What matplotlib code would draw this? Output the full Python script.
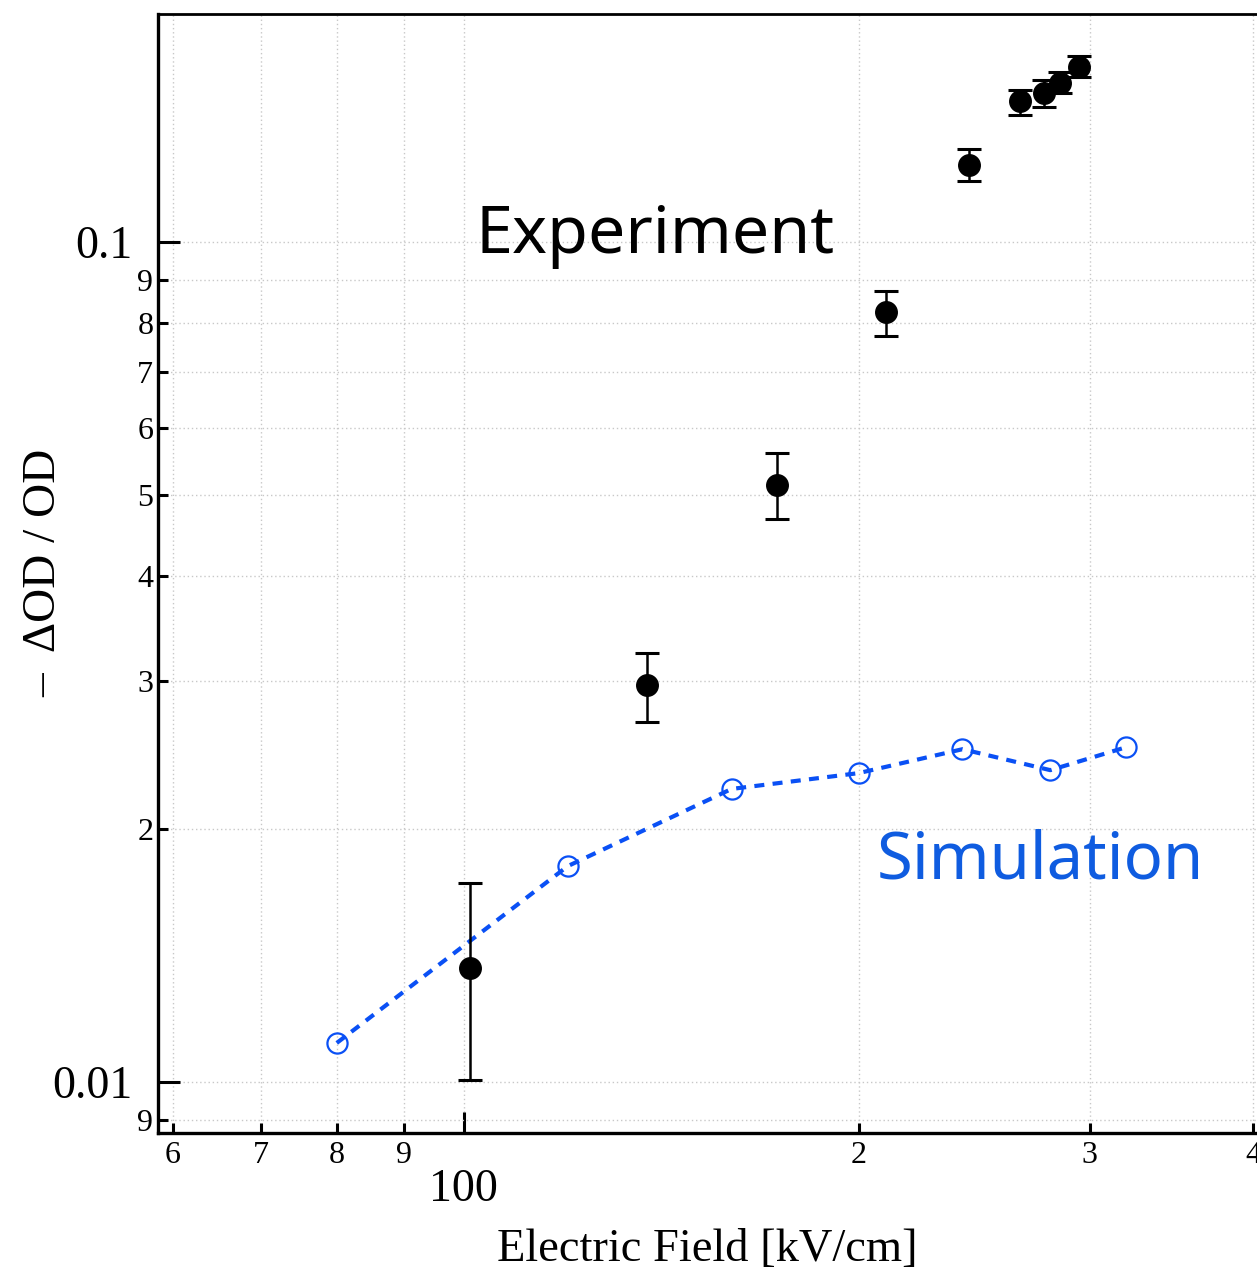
import matplotlib
matplotlib.use("Agg")
import matplotlib.pyplot as plt
from matplotlib.ticker import FixedLocator, FixedFormatter

# Experiment data
exp_field = [101.1, 137.9, 173.2, 209.7, 242.6, 265.3, 276.7, 284.8, 294.3]
exp_dod = [0.01367, 0.02970, 0.05137, 0.08253, 0.1235, 0.1472, 0.1503, 0.1547, 0.1617]
exp_err_lo = [0.00361, 0.00287, 0.00455, 0.00523, 0.0053, 0.0055, 0.0054, 0.0044, 0.0046]
exp_err_hi = [0.00358, 0.00270, 0.00471, 0.00487, 0.0055, 0.0045, 0.0056, 0.0048, 0.0050]

# Simulation data
sim_field = [80, 120, 160, 200, 240, 280, 320]
sim_dod = [0.01113, 0.01807, 0.02233, 0.02332, 0.02490, 0.02351, 0.02504]

x_major = [100]
x_major_labels = ["100"]
x_minor = [60, 70, 80, 90, 200, 300, 400]
x_minor_labels = ["6", "7", "8", "9", "2", "3", "4"]
y_major = [0.01, 0.1]
y_major_labels = ["0.01", "0.1"]
y_minor = [0.009, 0.02, 0.03, 0.04, 0.05, 0.06, 0.07, 0.08, 0.09]
y_minor_labels = ["9", "2", "3", "4", "5", "6", "7", "8", "9"]

SERIF = "Liberation Serif"
SIM_BLUE = "#0a50f5"

fig = plt.figure(figsize=(12.57, 12.70), dpi=100)
ax = fig.add_axes([0.1253, 0.108, 0.8747, 0.8813])

ax.set_xscale("log")
ax.set_yscale("log")
ax.set_xlim(58.4, 402.5)
ax.set_ylim(0.0087, 0.187)

# simulation
ax.plot(sim_field, sim_dod, color=SIM_BLUE, lw=3, linestyle=(0, (2.4, 2.0)),
        marker="o", markersize=14.5, markerfacecolor="none",
        markeredgecolor=SIM_BLUE, markeredgewidth=1.6, zorder=3)

# experiment
ax.errorbar(exp_field, exp_dod, yerr=[exp_err_lo, exp_err_hi], fmt="o",
            color="black", markersize=15.5, elinewidth=1.8, capsize=8.6,
            capthick=2.2, zorder=4)

ax.text(0.2895, 0.786, "Experiment", fontsize=47.8, family="Noto Sans",
        color="black", va="baseline", ha="left", transform=ax.transAxes)
ax.text(0.6545, 0.227, "Simulation", fontsize=47, family="Noto Sans",
        color="#0f5ce0", va="baseline", ha="left", transform=ax.transAxes)

# ticks
ax.xaxis.set_major_locator(FixedLocator(x_major))
ax.xaxis.set_major_formatter(FixedFormatter(x_major_labels))
ax.xaxis.set_minor_locator(FixedLocator(x_minor))
ax.xaxis.set_minor_formatter(FixedFormatter(x_minor_labels))
ax.yaxis.set_major_locator(FixedLocator(y_major))
ax.yaxis.set_major_formatter(FixedFormatter(y_major_labels))
ax.yaxis.set_minor_locator(FixedLocator(y_minor))
ax.yaxis.set_minor_formatter(FixedFormatter(y_minor_labels))

ax.tick_params(which="both", direction="in", width=2.2, top=False, right=False)
ax.tick_params(axis="x", which="major", length=15, labelsize=33, pad=26)
ax.tick_params(axis="x", which="minor", length=7, labelsize=23, pad=6)
ax.tick_params(axis="y", which="major", length=16, labelsize=33, pad=18)
ax.tick_params(axis="y", which="minor", length=7, labelsize=23, pad=3)
for lab in ax.get_xticklabels(which="both") + ax.get_yticklabels(which="both"):
    lab.set_family(SERIF)

ax.grid(True, which="both", linestyle=(0, (1, 2)), color="#c8c8c8", lw=1.0)
ax.set_axisbelow(True)

ax.spines["right"].set_visible(False)
ax.spines["left"].set_linewidth(2.4)
ax.spines["bottom"].set_linewidth(2.4)
ax.spines["top"].set_linewidth(2.0)

ax.set_xlabel("Electric Field [kV/cm]", family=SERIF, fontsize=33.5, labelpad=12)
ax.set_ylabel("\u2013  \u0394OD / OD", family=SERIF, fontsize=34)
ax.yaxis.set_label_coords(-0.084, 0.5)

fig.savefig("out.png", dpi=100)
